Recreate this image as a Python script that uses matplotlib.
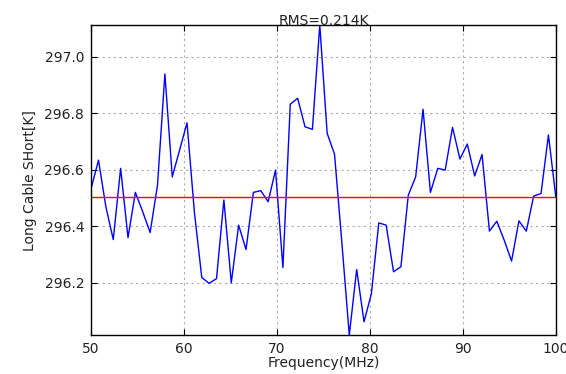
import numpy as np
import matplotlib
matplotlib.use("Agg")
import matplotlib.pyplot as plt

# Long cable short-circuit temperature across the band
freq_start = 50.0
freq_stop = 100.0
n_points = 64
temperature = [
    296.534, 296.634, 296.469, 296.353, 296.605, 296.360, 296.520, 296.451,
    296.378, 296.546, 296.939, 296.575, 296.670, 296.766, 296.450, 296.219,
    296.198, 296.215, 296.493, 296.200, 296.404, 296.318, 296.520, 296.526,
    296.487, 296.599, 296.254, 296.832, 296.853, 296.752, 296.743, 297.112,
    296.729, 296.655, 296.340, 296.015, 296.247, 296.062, 296.162, 296.412,
    296.404, 296.239, 296.257, 296.510, 296.575, 296.814, 296.520, 296.605,
    296.599, 296.750, 296.638, 296.691, 296.578, 296.654, 296.383, 296.418,
    296.351, 296.277, 296.419, 296.383, 296.507, 296.516, 296.723, 296.504,
]
baseline = 296.505
rms_text = "RMS=0.214K"
x_ticks = [50, 60, 70, 80, 90, 100]
y_ticks = [296.2, 296.4, 296.6, 296.8, 297.0]

freq = np.linspace(freq_start, freq_stop, n_points)
temp = np.array(temperature)

plt.rcParams["font.family"] = "DejaVu Sans"
fig = plt.figure(figsize=(5.66, 3.74), dpi=100, facecolor="white")
ax = fig.add_axes([0.161, 0.104, 0.821, 0.829])

ax.plot(freq, temp, color="#0000ff", lw=1.0)
ax.axhline(baseline, color="#ff0000", lw=1.0)

ax.set_xlim(freq_start, freq_stop)
ax.set_ylim(temp.min(), temp.max())
ax.set_xticks(x_ticks)
ax.set_yticks(y_ticks)
ax.set_yticklabels([f"{v:.1f}" for v in y_ticks])

ax.grid(True, color="#aaaaaa", linestyle=(0, (2, 3)), lw=0.8)
ax.tick_params(direction="in", top=True, right=True, length=4,
               labelsize=10, labelcolor="#222222", pad=5)
for s in ax.spines.values():
    s.set_linewidth(1.0)
    s.set_color("black")

ax.set_title(rms_text, fontsize=10, pad=0, color="#222222")
ax.set_xlabel("Frequency(MHz)", fontsize=10, labelpad=0, color="#222222")
ax.set_ylabel("Long Cable SHort[K]", fontsize=10, labelpad=5, color="#222222")

fig.savefig("out.png", dpi=100, facecolor="white")
